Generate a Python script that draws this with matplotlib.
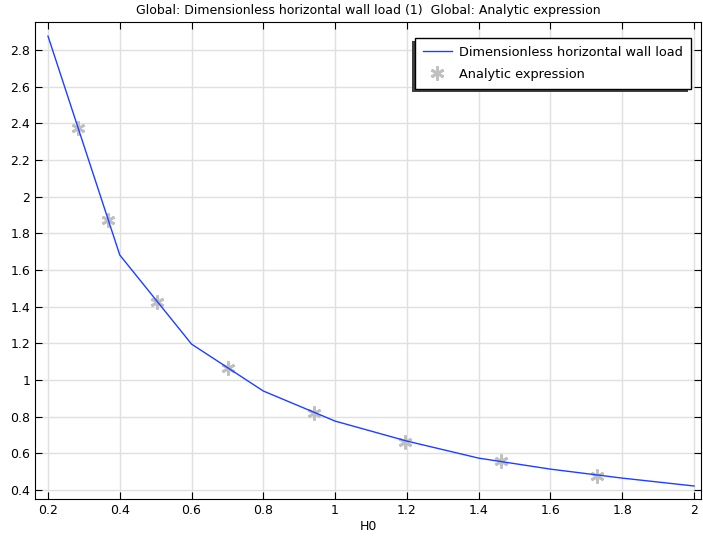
import numpy as np
import matplotlib.pyplot as plt
from matplotlib.patches import Rectangle

# curve values
h0 = [0.2, 0.4, 0.6, 0.8, 1.0, 1.2, 1.4, 1.6, 1.8, 2.0]
load = [2.876, 1.682, 1.196, 0.940, 0.776, 0.667, 0.574, 0.514, 0.465, 0.422]

# analytic points
h0_an = [0.284, 0.367, 0.504, 0.701, 0.941, 1.195, 1.462, 1.729]
load_an = [2.374, 1.873, 1.425, 1.065, 0.821, 0.661, 0.558, 0.477]

plt.rcParams['font.family'] = 'DejaVu Sans'
plt.rcParams['font.size'] = 9

fig = plt.figure(figsize=(7.03, 5.39), dpi=100)
ax = fig.add_axes([35/703, 40/539, 666/703, 477/539])

ax.plot(h0, load, color='#1f3fff', lw=1, zorder=3, label='Dimensionless horizontal wall load')
ax.plot(h0_an, load_an, ls='none', marker=(6, 2, 0), ms=10, mew=2,
        color='#c0c0c0', zorder=2, label='Analytic expression')

ax.set_xlim(0.1638, 2.0195)
ax.set_ylim(0.351, 2.953)
ax.set_xticks(np.arange(0.2, 2.01, 0.2))
ax.set_xticklabels(['0.2', '0.4', '0.6', '0.8', '1', '1.2', '1.4', '1.6', '1.8', '2'])
ax.set_yticks(np.arange(0.4, 2.81, 0.2))
ax.set_yticklabels(['0.4', '0.6', '0.8', '1', '1.2', '1.4', '1.6', '1.8', '2',
                    '2.2', '2.4', '2.6', '2.8'])
ax.tick_params(direction='in', top=True, right=True, length=5, labelsize=9)
ax.grid(True, color='#e0e0e0', lw=1)
ax.set_axisbelow(True)
ax.set_xlabel('H0', labelpad=2)
ax.set_title('Global: Dimensionless horizontal wall load (1)  Global: Analytic expression',
             fontsize=9, pad=6)

leg = ax.legend(loc='upper right', bbox_to_anchor=(0.985, 0.966), borderaxespad=0,
                fancybox=False, framealpha=1, edgecolor='black', borderpad=0.6,
                labelspacing=0.7, handlelength=2.3, handletextpad=0.55, fontsize=9.3)
leg.get_frame().set_linewidth(1)
leg.set_zorder(6)

# shadow to the lower left of the legend box
fig.canvas.draw()
bb = leg.get_window_extent()
ax.add_patch(Rectangle((bb.x0 - 3, bb.y0 - 3), bb.width, bb.height, transform=None,
                       facecolor='#404040', edgecolor='none', zorder=5.5, clip_on=False))

fig.savefig('out.png', dpi=100)
